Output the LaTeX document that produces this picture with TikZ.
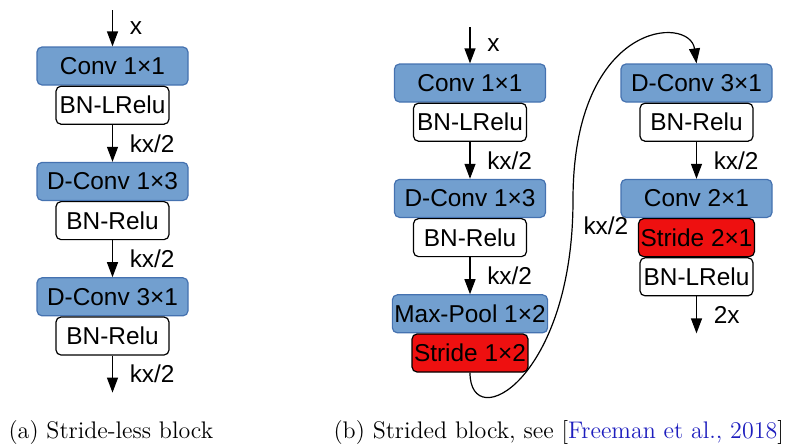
\documentclass[tikz,border=0pt]{standalone}
\usepackage{fontspec}
\newfontfamily\boxfont{Liberation Sans}
\usepackage{tikz}
\usetikzlibrary{arrows.meta, positioning}
\definecolor{convblue}{RGB}{114,159,207}
\definecolor{convedge}{RGB}{69,114,176}
\definecolor{stridered}{RGB}{238,16,16}
\definecolor{citeblue}{RGB}{30,30,190}

\begin{document}
\begin{tikzpicture}[x=0.5pt, y=-0.5pt, >={Triangle[length=7.5pt,width=5.5pt]}, line width=0.6pt,
    layer/.style={draw=convedge, fill=convblue, rounded corners=2.5pt, minimum width=75.5pt,
        minimum height=19pt, inner sep=1pt, font=\boxfont\fontsize{12.2}{14}\selectfont},
    act/.style={draw, fill=white, rounded corners=2.5pt, minimum width=56.5pt,
        minimum height=19pt, inner sep=1pt, font=\boxfont\fontsize{12.2}{14}\selectfont},
    stridebox/.style={act, fill=stridered},
    lbl/.style={font=\boxfont\fontsize{12.2}{14}\selectfont, right=5pt}]
    \useasboundingbox (0,0) rectangle (804,446);

    % (a) Khối không stride
    \coordinate (ina) at (112.5,10);
    \node[layer] (conv1a) at (112.5,66) {Conv 1×1};
    \node[act, below=0pt of conv1a] (bn1a) {BN-LRelu};
    \node[layer, below=18.5pt of bn1a] (dconv13a) {D-Conv 1×3};
    \node[act, below=0pt of dconv13a] (bn2a) {BN-Relu};
    \node[layer, below=18.5pt of bn2a] (dconv31a) {D-Conv 3×1};
    \node[act, below=0pt of dconv31a] (bn3a) {BN-Relu};
    \coordinate[below=18.5pt of bn3a] (outa);

    \draw[->] (ina) -- node[lbl] {x} (conv1a);
    \draw[->] (bn1a) -- node[lbl] {kx/2} (dconv13a);
    \draw[->] (bn2a) -- node[lbl] {kx/2} (dconv31a);
    \draw[->] (bn3a) -- node[lbl] {kx/2} (outa);

    % (b) Khối có stride, cột trái
    \coordinate (inb) at (470,27);
    \node[layer] (conv1b) at (470,83) {Conv 1×1};
    \node[act, below=0pt of conv1b] (bn1b) {BN-LRelu};
    \node[layer, below=18.5pt of bn1b] (dconv13b) {D-Conv 1×3};
    \node[act, below=0pt of dconv13b] (bn2b) {BN-Relu};
    \node[layer, below=18.5pt of bn2b] (poolb) {Max-Pool 1×2};
    \node[stridebox, below=0pt of poolb] (stride12b) {Stride 1×2};

    \draw[->] (inb) -- node[lbl] {x} (conv1b);
    \draw[->] (bn1b) -- node[lbl] {kx/2} (dconv13b);
    \draw[->] (bn2b) -- node[lbl] {kx/2} (poolb);

    % (b) cột phải
    \node[layer] (dconv31b) at (696.5,83) {D-Conv 3×1};
    \node[act, below=0pt of dconv31b] (bn3b) {BN-Relu};
    \node[layer, below=18.5pt of bn3b] (conv21b) {Conv 2×1};
    \node[stridebox, below=0pt of conv21b] (stride21b) {Stride 2×1};
    \node[act, below=0pt of stride21b] (bnl2b) {BN-LRelu};
    \coordinate[below=18.5pt of bnl2b] (outb);

    % Đường cong nối hai cột
    \coordinate (bend) at (573,200);
    \draw[->] (stride12b.south) .. controls +(0,63) and +(0,180) ..
        node[lbl, pos=0.95, right=2pt] {kx/2} (bend)
        .. controls +(0,-180) and (690,15) .. (dconv31b.north);
    \draw[->] (bn3b) -- node[lbl] {kx/2} (conv21b);
    \draw[->] (bnl2b) -- node[lbl] {2x} (outb);

    % Chú thích
    \node[anchor=west, inner sep=0pt, font=\fontsize{12}{14}\selectfont] (capa) at (8,433)
        {(a) Stride-less block};
    \node[anchor=west, inner sep=0pt, font=\fontsize{12}{14}\selectfont] (capb) at (333,433)
        {(b) Strided block, see [\textcolor{citeblue}{Freeman et al., 2018}]};
\end{tikzpicture}
\end{document}
